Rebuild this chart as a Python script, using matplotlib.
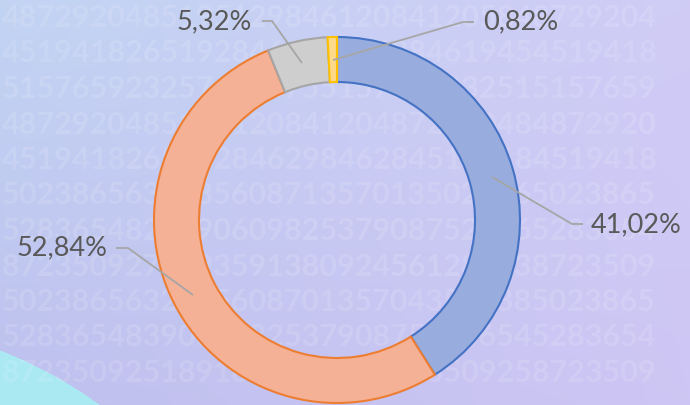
import numpy as np
import matplotlib
matplotlib.use("Agg")
import matplotlib.pyplot as plt

# slice data (Excel style donut, clockwise from 12 o'clock)
labels = ["41,02%", "52,84%", "5,32%", "0,82%"]
shares = [41.02, 52.84, 5.32, 0.82]
fills = ["#98acdd", "#f5b196", "#cecece", "#ffd98a"]
edges = ["#4472c4", "#ed7d31", "#a5a5a5", "#ffc000"]

# label text positions and leader lines (pixel coords, y from top)
label_pos = [(591, 225, "left"), (107, 248, "right"), (252, 22, "right"), (483, 22, "left")]
leaders = [
    [(492, 177), (572, 224), (583, 224)],
    [(116, 248), (128, 248), (193, 295)],
    [(262, 21), (272, 21), (302, 63)],
    [(474, 22), (463, 22), (333, 60)],
]

# faint digit wallpaper behind the chart
digit_rows = [
    "4872920485195129846120841205848729204",
    "4519418265192846129846284619454519418",
    "5157659232576193755157659232515157659",
    "4872920485195120841204872920484872920",
    "4519418265192846298462845194184519418",
    "5023865632085608713570135023865023865",
    "5283654828390609825379087528365283654",
    "8723509270593591380924561287238723509",
    "5023865632085608701357043502385023865",
    "5283654839060982537908752836545283654",
    "8723509251891892456128723509258723509",
]

W, H = 690, 405
fig = plt.figure(figsize=(6.9, 4.05), dpi=100)

# background gradient
bg = fig.add_axes([0, 0, 1, 1])
yy, xx = np.mgrid[0:H, 0:W]
tl = np.array([194, 212, 243]) / 255
tr = np.array([208, 204, 246]) / 255
bl = np.array([190, 192, 238]) / 255
br = np.array([206, 198, 244]) / 255
u = (xx / W)[..., None]
v = (yy / H)[..., None]
img = (1 - u) * (1 - v) * tl + u * (1 - v) * tr + (1 - u) * v * bl + u * v * br
# cyan arc bottom-left
d = np.hypot(xx - (-160), yy - 760)
cyan = np.array([170, 232, 242]) / 255
m = (d < 440)[..., None]
img = np.where(m, cyan, img)
bg.imshow(img, extent=[0, W, H, 0], aspect="auto")
bg.set_xlim(0, W)
bg.set_ylim(H, 0)
bg.axis("off")
for i, row in enumerate(digit_rows):
    bg.text(2, 18 + i * 35.5, row, fontsize=22, fontweight="bold", family="Lato",
            color="white", alpha=0.13, va="center", ha="left")

# donut
ax = fig.add_axes([0, 0, 1, 1])
cx, cy, R = 337, H - 220, 183
wedges, _ = ax.pie(shares, center=(cx, cy), radius=R, startangle=90,
                   counterclock=False, colors=fills, frame=True,
                   wedgeprops=dict(width=45, linewidth=1.5))
for w, ec in zip(wedges, edges):
    w.set_edgecolor(ec)
ax.set_xlim(0, W)
ax.set_ylim(0, H)
ax.set_aspect("equal")
ax.axis("off")

for pts in leaders:
    xs = [p[0] for p in pts]
    ys = [H - p[1] for p in pts]
    ax.plot(xs, ys, color="#a6a6a6", lw=1.3, solid_capstyle="butt")

for lab, (x, y, ha) in zip(labels, label_pos):
    ax.text(x, H - y, lab, fontsize=19.5, family="Lato", color="#595959",
            ha=ha, va="center")

fig.savefig("out.png", dpi=100)
